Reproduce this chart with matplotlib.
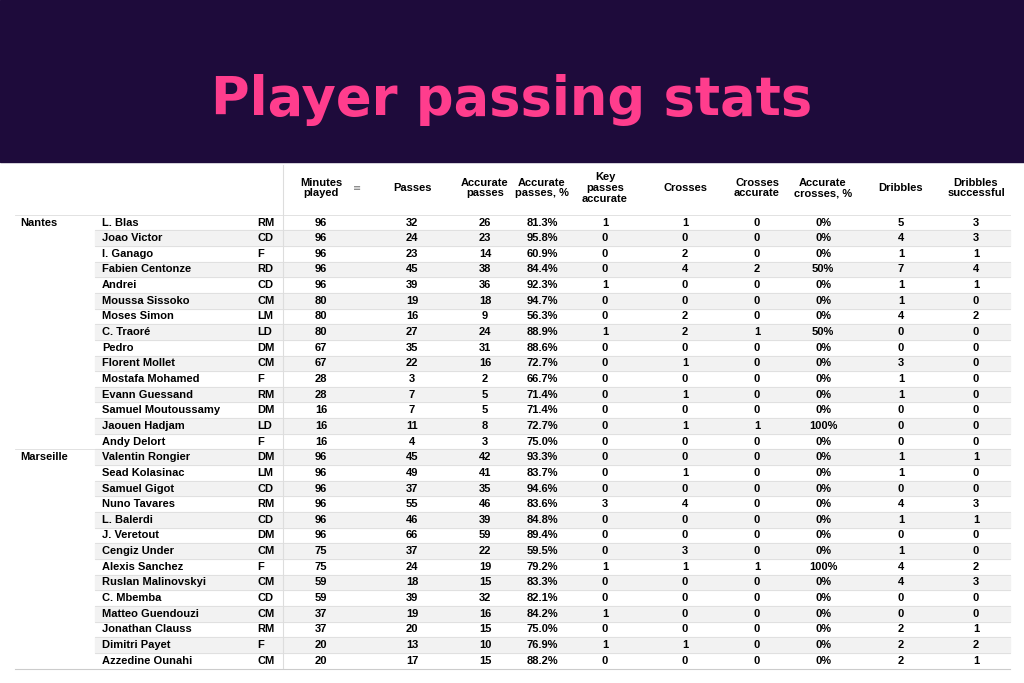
import matplotlib.pyplot as plt
from matplotlib.patches import Rectangle

teams = ["Nantes"] * 15 + ["Marseille"] * 14
players = ["L. Blas", "Joao Victor", "I. Ganago", "Fabien Centonze", "Andrei", "Moussa Sissoko",
           "Moses Simon", "C. Traoré", "Pedro", "Florent Mollet", "Mostafa Mohamed", "Evann Guessand",
           "Samuel Moutoussamy", "Jaouen Hadjam", "Andy Delort",
           "Valentin Rongier", "Sead Kolasinac", "Samuel Gigot", "Nuno Tavares", "L. Balerdi",
           "J. Veretout", "Cengiz Under", "Alexis Sanchez", "Ruslan Malinovskyi", "C. Mbemba",
           "Matteo Guendouzi", "Jonathan Clauss", "Dimitri Payet", "Azzedine Ounahi"]
positions = ["RM", "CD", "F", "RD", "CD", "CM", "LM", "LD", "DM", "CM", "F", "RM", "DM", "LD", "F",
             "DM", "LM", "CD", "RM", "CD", "DM", "CM", "F", "CM", "CD", "CM", "RM", "F", "CM"]
minutes = [96, 96, 96, 96, 96, 80, 80, 80, 67, 67, 28, 28, 16, 16, 16,
           96, 96, 96, 96, 96, 96, 75, 75, 59, 59, 37, 37, 20, 20]
passes = [32, 24, 23, 45, 39, 19, 16, 27, 35, 22, 3, 7, 7, 11, 4,
          45, 49, 37, 55, 46, 66, 37, 24, 18, 39, 19, 20, 13, 17]
acc_passes = [26, 23, 14, 38, 36, 18, 9, 24, 31, 16, 2, 5, 5, 8, 3,
              42, 41, 35, 46, 39, 59, 22, 19, 15, 32, 16, 15, 10, 15]
acc_pct = ["81.3%", "95.8%", "60.9%", "84.4%", "92.3%", "94.7%", "56.3%", "88.9%", "88.6%", "72.7%",
           "66.7%", "71.4%", "71.4%", "72.7%", "75.0%",
           "93.3%", "83.7%", "94.6%", "83.6%", "84.8%", "89.4%", "59.5%", "79.2%", "83.3%", "82.1%",
           "84.2%", "75.0%", "76.9%", "88.2%"]
key_passes = [1, 0, 0, 0, 1, 0, 0, 1, 0, 0, 0, 0, 0, 0, 0,
              0, 0, 0, 3, 0, 0, 0, 1, 0, 0, 1, 0, 1, 0]
crosses = [1, 0, 2, 4, 0, 0, 2, 2, 0, 1, 0, 1, 0, 1, 0,
           0, 1, 0, 4, 0, 0, 3, 1, 0, 0, 0, 0, 1, 0]
crosses_acc = [0, 0, 0, 2, 0, 0, 0, 1, 0, 0, 0, 0, 0, 1, 0,
               0, 0, 0, 0, 0, 0, 0, 1, 0, 0, 0, 0, 0, 0]
crosses_pct = ["0%", "0%", "0%", "50%", "0%", "0%", "0%", "50%", "0%", "0%", "0%", "0%", "0%", "100%", "0%",
               "0%", "0%", "0%", "0%", "0%", "0%", "0%", "100%", "0%", "0%", "0%", "0%", "0%", "0%"]
dribbles = [5, 4, 1, 7, 1, 1, 4, 0, 0, 3, 1, 1, 0, 0, 0,
            1, 1, 0, 4, 1, 0, 1, 4, 4, 0, 0, 2, 2, 2]
dribbles_ok = [3, 3, 1, 4, 1, 0, 2, 0, 0, 0, 0, 0, 0, 0, 0,
               1, 0, 0, 3, 1, 0, 0, 2, 3, 0, 0, 1, 2, 1]
headers = ["Minutes\nplayed", "Passes", "Accurate\npasses", "Accurate\npasses, %", "Key\npasses\naccurate",
           "Crosses", "Crosses\naccurate", "Accurate\ncrosses, %", "Dribbles", "Dribbles\nsuccessful"]

fig = plt.figure(figsize=(10.24, 6.83), dpi=100)
ax = fig.add_axes([0, 0, 1, 1])
ax.set_xlim(0, 1024)
ax.set_ylim(683, 0)
ax.axis("off")

# banner
ax.add_patch(Rectangle((0, 0), 1024, 162, color="#1e0b3b", zorder=0))
ax.text(512, 100, "Player passing stats", color="#ff3d8d", fontsize=38, fontweight="bold",
        ha="center", va="center", family="DejaVu Sans")

col_x = [321, 412, 485, 542, 605, 685, 757, 823, 901, 976]
for x, h in zip(col_x, headers):
    ax.text(x, 188, h, ha="center", va="center", fontsize=8, fontweight="bold",
            family="Liberation Sans", linespacing=1.1)
ax.text(357, 188, "≡", fontsize=7, color="#777777", ha="center", va="center")
ax.plot([283, 283], [165, 668], color="#dddddd", lw=0.8)

y0, dy = 222.5, 15.65
fs = 8
for i in range(len(players)):
    y = y0 + i * dy
    if i % 2 == 1:
        ax.add_patch(Rectangle((95, y - dy / 2), 915, dy, color="#f2f2f2", zorder=0))
    ax.plot([95, 1010], [y + dy / 2, y + dy / 2], color="#dddddd", lw=0.6)
    if i == 0 or teams[i] != teams[i - 1]:
        ax.text(20, y, teams[i], ha="left", va="center", fontsize=fs, fontweight="bold", family="Liberation Sans")
        ax.plot([15, 1010], [y - dy / 2, y - dy / 2], color="#dddddd", lw=0.6)
    ax.text(102, y, players[i], ha="left", va="center", fontsize=fs, fontweight="bold", family="Liberation Sans")
    ax.text(257, y, positions[i], ha="left", va="center", fontsize=fs, fontweight="bold", family="Liberation Sans")
    vals = [minutes[i], passes[i], acc_passes[i], acc_pct[i], key_passes[i], crosses[i],
            crosses_acc[i], crosses_pct[i], dribbles[i], dribbles_ok[i]]
    for x, v in zip(col_x, vals):
        ax.text(x, y, str(v), ha="center", va="center", fontsize=fs, fontweight="bold", family="Liberation Sans")
ax.plot([15, 1010], [y0 + len(players) * dy - dy / 2] * 2, color="#cccccc", lw=0.8)

fig.savefig("out.png", dpi=100)
